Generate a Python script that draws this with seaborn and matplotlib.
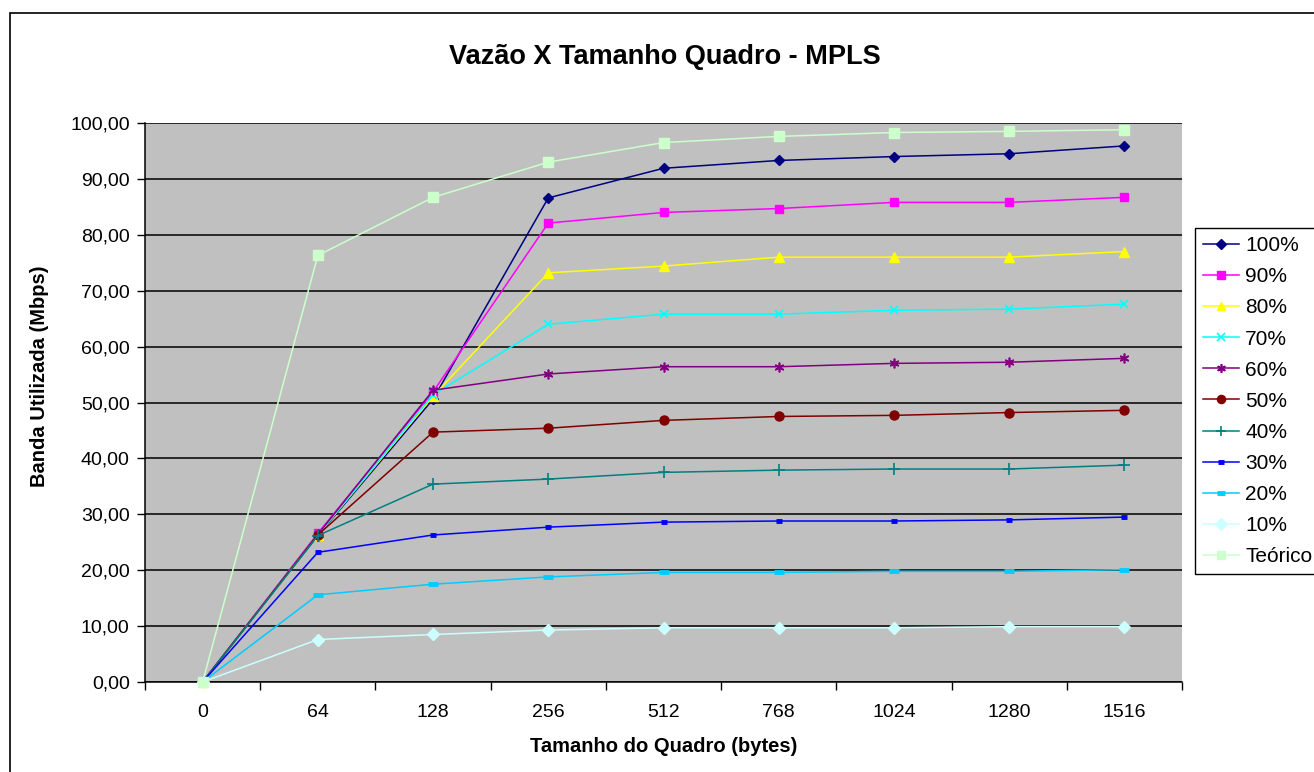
import matplotlib
matplotlib.use("Agg")
import matplotlib.pyplot as plt
import seaborn as sns
from matplotlib.patches import Rectangle
from matplotlib.ticker import FixedLocator, FuncFormatter

# frame sizes (bytes) - categorical axis
frame_sizes = ["0", "64", "128", "256", "512", "768", "1024", "1280", "1516"]

# throughput (Mbps), one list per offered load
load_100 = [0, 26.2, 50.6, 86.6, 91.9, 93.3, 94.0, 94.5, 95.9]
load_90 = [0, 26.6, 51.9, 82.1, 84.0, 84.7, 85.8, 85.8, 86.7]
load_80 = [0, 26.3, 51.1, 73.2, 74.4, 76.0, 76.0, 76.0, 77.0]
load_70 = [0, 26.3, 51.4, 64.0, 65.8, 65.8, 66.5, 66.7, 67.6]
load_60 = [0, 26.4, 52.2, 55.1, 56.4, 56.4, 57.0, 57.2, 57.9]
load_50 = [0, 26.3, 44.7, 45.4, 46.8, 47.5, 47.7, 48.2, 48.6]
load_40 = [0, 26.2, 35.4, 36.3, 37.5, 37.9, 38.1, 38.1, 38.8]
load_30 = [0, 23.2, 26.3, 27.7, 28.6, 28.8, 28.8, 29.0, 29.5]
load_20 = [0, 15.6, 17.5, 18.8, 19.6, 19.6, 19.8, 19.8, 20.1]
load_10 = [0, 7.6, 8.5, 9.3, 9.7, 9.7, 9.7, 9.9, 9.9]
teorico = [0, 76.3, 86.7, 93.0, 96.5, 97.6, 98.3, 98.5, 98.8]

series_names = ["100%", "90%", "80%", "70%", "60%", "50%", "40%", "30%", "20%", "10%", "Teórico"]
series_values = [load_100, load_90, load_80, load_70, load_60, load_50,
                 load_40, load_30, load_20, load_10, teorico]

# excel-ish colours and marker styles
colors = ["#000080", "#FF00FF", "#FFFF00", "#00FFFF", "#800080", "#800000",
          "#008080", "#0000FF", "#00CCFF", "#CCFFFF", "#CCFFCC"]
markers = ["D", "s", "^", "x", (6, 2, 0), "o", "+", "_", "_", "D", "s"]
msizes = [5.5, 6, 7, 6, 7, 6.5, 8, 5, 7, 6.5, 6.5]
medge = [1, 1, 1, 1.2, 1.2, 1, 1.2, 3.5, 3.5, 1, 1]

plt.rcParams["font.family"] = ["Liberation Sans", "DejaVu Sans"]

fig = plt.figure(figsize=(13.14, 7.72), dpi=100)
ax = fig.add_axes([145 / 1314, 1 - 682 / 772, (1182 - 145) / 1314, (682 - 123) / 772])
ax.set_facecolor("#C0C0C0")

for name, vals, c, m, ms, mew in zip(series_names, series_values, colors, markers, msizes, medge):
    sns.lineplot(x=frame_sizes, y=vals, ax=ax, color=c, marker=m, markersize=ms,
                 markeredgecolor=c, markerfacecolor=c, markeredgewidth=mew,
                 linewidth=1.1, label=name, legend=False, clip_on=False, zorder=3)

ax.set_xlim(-0.5, 8.5)
ax.set_ylim(0, 100)

# horizontal gridlines, black
ax.set_yticks(range(0, 101, 10))
ax.yaxis.set_major_formatter(FuncFormatter(lambda v, p: f"{v:.2f}".replace(".", ",")))
ax.grid(axis="y", color="black", linewidth=1.1)
ax.grid(axis="x", visible=False)
ax.set_axisbelow(True)

# category labels between tick marks (excel style)
ax.set_xticks(range(len(frame_sizes)))
ax.set_xticklabels(frame_sizes)
ax.xaxis.set_minor_locator(FixedLocator([i - 0.5 for i in range(len(frame_sizes) + 1)]))
ax.tick_params(axis="x", which="major", length=0, pad=16, labelsize=14)
ax.tick_params(axis="x", which="minor", length=6, width=1, direction="out", color="black")
ax.tick_params(axis="y", length=6, width=1, direction="out", pad=5, labelsize=14)

for side in ["top", "right"]:
    ax.spines[side].set_visible(False)
for side in ["left", "bottom"]:
    ax.spines[side].set_color("black")
    ax.spines[side].set_linewidth(1.1)

ax.set_xlabel("Tamanho do Quadro (bytes)", fontsize=14.5, fontweight="bold", va="center")
ax.set_ylabel("Banda Utilizada (Mbps)", fontsize=14.5, fontweight="bold", va="center")
ax.xaxis.set_label_coords(0.5, -(747 - 682) / 559)
ax.yaxis.set_label_coords((40 - 145) / 1037, (682 - 376) / 559)
fig.text(665 / 1314, 1 - 57 / 772, "Vazão X Tamanho Quadro - MPLS", ha="center", va="center",
         fontsize=19.5, fontweight="bold")

# legend on the right
handles = ax.get_lines()[:len(series_names)]
leg = fig.legend(handles, series_names, loc="upper left",
                 bbox_to_anchor=(1195 / 1314, 1 - 228 / 772), bbox_transform=fig.transFigure,
                 fontsize=15, frameon=True, fancybox=False, framealpha=1,
                 edgecolor="black", handlelength=1.7, handletextpad=0.3,
                 labelspacing=0.58, borderpad=0.4, borderaxespad=0, markerscale=0.9)
leg.get_frame().set_linewidth(1.0)

# outer chart border
fig.patches.append(Rectangle((10 / 1314, -0.05), 1.2, 1 - 13 / 772 + 0.05, transform=fig.transFigure,
                             fill=False, edgecolor="black", linewidth=1.2))

fig.savefig("out.png", dpi=100)
